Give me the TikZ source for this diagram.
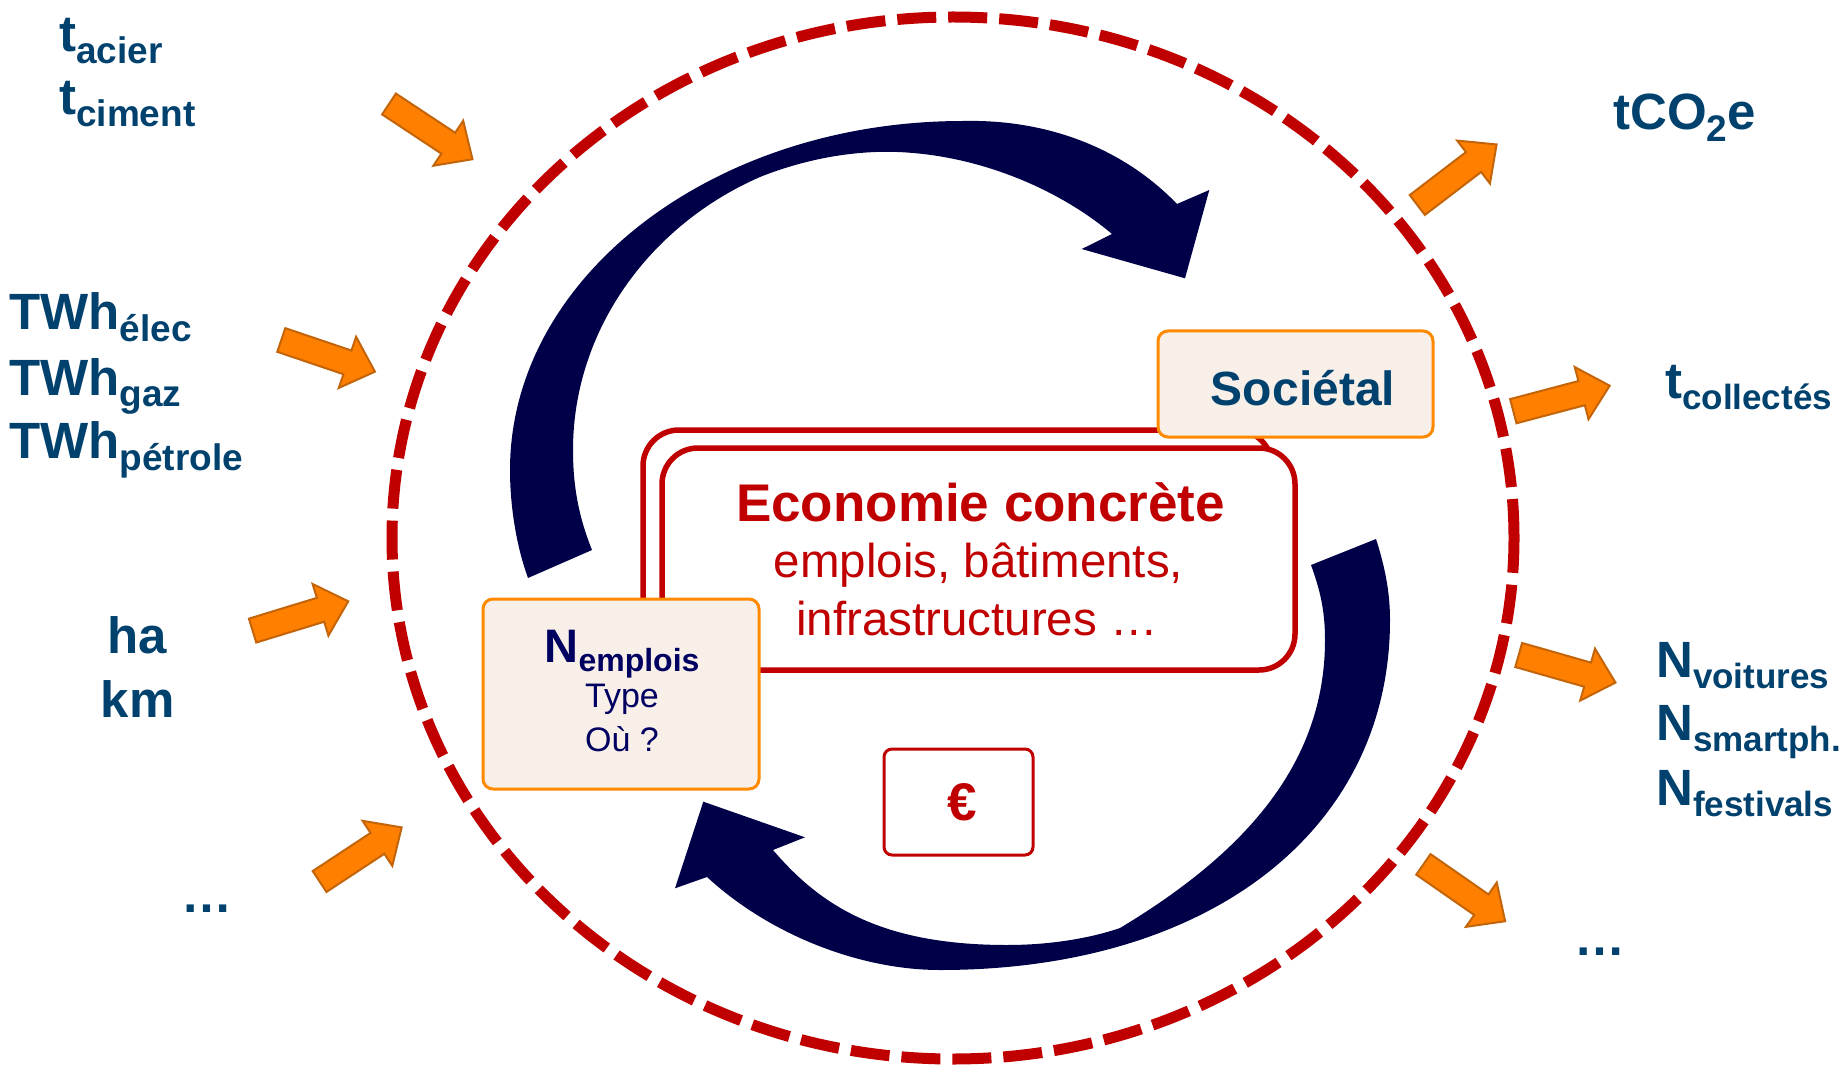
\documentclass[tikz,border=0pt]{standalone}
\usepackage{fontspec}
\setmainfont{Liberation Sans}
\definecolor{lblue}{RGB}{0,65,110}
\definecolor{arrnavy}{RGB}{0,0,72}
\definecolor{navytxt}{RGB}{0,0,96}
\definecolor{dred}{RGB}{192,0,0}
\definecolor{orfill}{RGB}{255,128,0}
\definecolor{ordraw}{RGB}{196,100,8}
\definecolor{boxfill}{RGB}{249,239,233}
\definecolor{boxdraw}{RGB}{255,138,0}
\newcommand\lsub[1]{\raisebox{-12pt}{\fontsize{37}{40}\selectfont #1}}
\newcommand\rsub[1]{\raisebox{-11pt}{\fontsize{35}{38}\selectfont #1}}
\newcommand\esub[1]{\raisebox{-9pt}{\fontsize{32}{36}\selectfont #1}}
\newcommand\OrArrow[4]{%
  \pgfmathsetmacro\arrL{veclen(#3-#1,#4-#2)}%
  \pgfmathsetmacro\arrA{atan2(#2-#4,#3-#1)}%
  \begin{scope}[shift={(#1,#2)},rotate=\arrA]
    \filldraw[orarrow] (0,-12.5) -- (\arrL-29,-12.5) -- (\arrL-29,-27) -- (\arrL,0) -- (\arrL-29,27) -- (\arrL-29,12.5) -- (0,12.5) -- cycle;
  \end{scope}}
\tikzset{
  orarrow/.style={fill=orfill, draw=ordraw, line width=2pt, line join=miter},
  lbl/.style={text=lblue, font=\bfseries\fontsize{51}{55}\selectfont, inner sep=0pt, anchor=base west},
  pbox/.style={fill=boxfill, draw=boxdraw, line width=3pt, rounded corners=10pt, inner sep=0pt},
  redbox/.style={fill=white, draw=dred, line width=5.5pt, rounded corners=36pt, inner sep=0pt},
  redtxt/.style={text=dred, inner sep=0pt, anchor=base},
}
\begin{document}
\begin{tikzpicture}[x=1pt,y=-1pt]
\useasboundingbox (0,0) rectangle (1845,1067);
\fill[white] (0,0) rectangle (1845,1067);

% dashed boundary
\draw[dred, line width=11pt, dash pattern=on 39pt off 12pt] (953,538) ellipse [x radius=561pt, y radius=521pt];

% top navy curved arrow
\fill[arrnavy] (528,578) .. controls (516,545) and (510,505) .. (510,470)
  .. controls (510,277) and (713,121) .. (963,121)
  .. controls (1050,119) and (1125,150) .. (1177,204)
  -- (1209.3,190) -- (1185,278.3) -- (1081.7,249) -- (1112,234)
  .. controls (1060,190) and (980,155) .. (897,152)
  .. controls (840,150) and (790,165) .. (760,177)
  .. controls (650,225) and (573,330) .. (573,450)
  .. controls (573,490) and (580,520) .. (592,550) -- cycle;

% bottom navy curved arrow
\fill[arrnavy] (1376,539) .. controls (1386,570) and (1390,595) .. (1390,620)
  .. controls (1390,830) and (1210,970) .. (940,970)
  .. controls (860,970) and (770,935) .. (707,877)
  -- (675,888.3) -- (703.3,801.7) -- (805,837.3) -- (773,850)
  .. controls (820,905) and (880,945) .. (1007,945)
  .. controls (1060,945) and (1100,935) .. (1120,928)
  .. controls (1250,850) and (1325,760) .. (1325,640)
  .. controls (1325,610) and (1320,590) .. (1311,565) -- cycle;

% central frames
\node[redbox, minimum width=629pt, minimum height=222pt] (outer) at (957.5,541) {};
\node[redbox, minimum width=633pt, minimum height=222pt] (inner) at (978.5,559) {};
\node[redtxt, font=\bfseries\fontsize{53}{58}\selectfont] (econ) at (980.5,521) {Economie concrète};
\node[redtxt, font=\fontsize{47.5}{52}\selectfont] (empl) at (978.5,577.5) {emplois, bâtiments,};
\node[redtxt, font=\fontsize{47.5}{52}\selectfont] (infra) at (977,635) {infrastructures …};

% Societal box
\node[pbox, minimum width=275pt, minimum height=106pt] (socbox) at (1295.5,384) {};
\node[text=lblue, inner sep=0pt, anchor=base, font=\bfseries\fontsize{48}{50}\selectfont] (soc) at (1303,405) {Sociétal};

% N emplois box
\node[pbox, minimum width=276pt, minimum height=190pt] (nbox) at (621,694) {};
\node[text=navytxt, inner sep=0pt, anchor=base, font=\bfseries\fontsize{47}{50}\selectfont] (nemp) at (622,662.5) {N\esub{emplois}};
\node[text=navytxt, inner sep=0pt, anchor=base, font=\fontsize{34}{38}\selectfont] (type) at (622,707) {Type};
\node[text=navytxt, inner sep=0pt, anchor=base, font=\fontsize{34}{38}\selectfont] (ou) at (622,751) {Où ?};

% euro box
\node[fill=white, draw=dred, line width=3pt, rounded corners=8pt, minimum width=149pt, minimum height=106pt, inner sep=0pt] (eurobox) at (958.5,802) {};
\node[redtxt, font=\bfseries\fontsize{53}{58}\selectfont] (euro) at (962,820.7) {€};

% orange arrows (inputs)
\OrArrow{389}{104}{472.6}{159.3}
\OrArrow{281.3}{340}{375}{371.7}
\OrArrow{252.6}{630.6}{348.3}{601.3}
\OrArrow{319.6}{881.5}{401.8}{827.3}
% orange arrows (outputs)
\OrArrow{1417.3}{205}{1496.8}{144.3}
\OrArrow{1513.3}{411.2}{1609.7}{385.7}
\OrArrow{1518.7}{655}{1615.5}{682.6}
\OrArrow{1423.4}{864.4}{1505.2}{921.3}

% left labels
\node[lbl] (tacier) at (59,51.7) {t\lsub{acier}};
\node[lbl] (tciment) at (59,115) {t\lsub{ciment}};
\node[lbl] (twhe) at (9,330) {TWh\lsub{élec}};
\node[lbl] (twhg) at (9,395) {TWh\lsub{gaz}};
\node[lbl] (twhp) at (9,458) {TWh\lsub{pétrole}};
\node[lbl, anchor=base] (ha) at (137.5,653.7) {ha};
\node[lbl, anchor=base] (km) at (137.5,717) {km};
\node[lbl, anchor=base] (dotsl) at (207,912) {…};

% right labels
\node[lbl] (tco) at (1613,130) {tCO\lsub{2}e};
\node[lbl] (tcoll) at (1665,398) {t\rsub{collectés}};
\node[lbl] (nvoit) at (1656,677) {N\rsub{voitures}};
\node[lbl] (nsmart) at (1656,740.5) {N\rsub{smartph.}};
\node[lbl] (nfest) at (1656,805.6) {N\rsub{festivals}};
\node[lbl, anchor=base] (dotsr) at (1600,955) {…};
\end{tikzpicture}
\end{document}
